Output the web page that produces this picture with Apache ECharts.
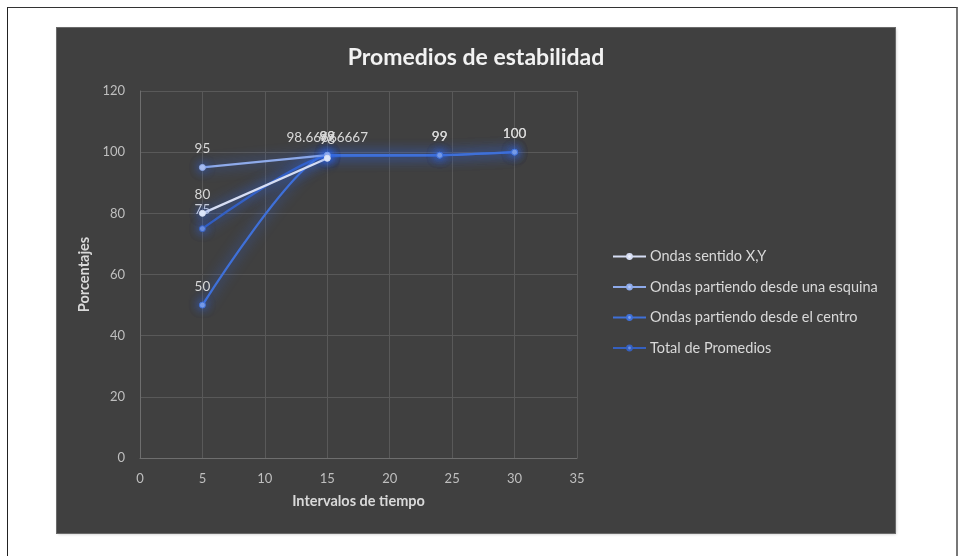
<!DOCTYPE html>
<html>
<head>
<meta charset="utf-8">
<script src="https://cdn.jsdelivr.net/npm/echarts@6/dist/echarts.min.js"></script>
<style>
  html, body { margin: 0; padding: 0; background: #ffffff; }
  #frame {
    position: absolute; left: 7px; top: 7px; width: 951px; height: 560px;
    border-left: 1px solid #222; border-top: 1px solid #333; border-right: 2px solid #777;
    box-sizing: border-box;
  }
  #chart {
    position: absolute; left: 57px; top: 28px; width: 838px; height: 505px;
    background: #404040;
    box-shadow: 0 0 0 1px #6a6a6a, 1px 1px 3px rgba(0,0,0,0.25);
  }
</style>
</head>
<body>
<div id="frame"></div>
<div id="chart"></div>
<script>
// Intervalos de tiempo medidos
const tiempos = [5, 15, 24, 30];

// Promedios por tipo de onda (porcentaje)
const ondasXY = [80, 98];
const ondasEsquina = [95, 99];
const ondasCentro = [50, 99, 99, 100];
const totalPromedios = [75, 98.66666667, 99, 100];

const nombres = [
  'Ondas sentido X,Y',
  'Ondas partiendo desde una esquina',
  'Ondas partiendo desde el centro',
  'Total de Promedios'
];

const xTicks = { min: 0, max: 35, interval: 5 };
const yTicks = { min: 0, max: 120, interval: 20 };

const colores = ['#d6ddf3', '#8eaaea', '#3f70d8', '#3560c0'];
const marcadores = ['#eef2fb', '#b4c6f2', '#7d9fe6', '#6d8fdc'];

function pares(valores) {
  return valores.map((v, i) => [tiempos[i], v]);
}

const FONT = 'Lato, "Open Sans", sans-serif';

function serie(i, valores, smooth) {
  return {
    name: nombres[i],
    type: 'line',
    data: pares(valores),
    smooth: smooth,
    symbol: 'circle',
    symbolSize: 6,
    lineStyle: {
      color: colores[i],
      width: 2.3,
      shadowColor: 'rgba(50,105,240,0.95)',
      shadowBlur: 13
    },
    itemStyle: {
      color: marcadores[i],
      borderColor: colores[i],
      borderWidth: 1,
      shadowColor: 'rgba(50,105,240,0.95)',
      shadowBlur: 10
    },
    label: {
      show: true,
      position: 'top',
      distance: 8,
      color: '#d9d9d9',
      fontFamily: FONT,
      fontSize: 13.5
    },
    z: 10 - i
  };
}

const chart = echarts.init(document.getElementById('chart'), null, { renderer: 'canvas' });

chart.setOption({
  backgroundColor: '#404040',
  animation: false,
  title: {
    text: 'Promedios de estabilidad',
    left: 'center',
    top: 13,
    textStyle: { color: '#f2f2f2', fontFamily: FONT, fontWeight: 'bold', fontSize: 23 }
  },
  grid: { left: 83, top: 63, width: 437, height: 367 },
  legend: {
    orient: 'vertical',
    left: 555,
    top: 221,
    padding: 0,
    itemWidth: 33,
    itemHeight: 6,
    itemGap: 15.5,
    textStyle: { color: '#d9d9d9', fontFamily: FONT, fontSize: 14.5, padding: [0, 0, 0, -1] },
    data: nombres
  },
  xAxis: {
    type: 'value',
    min: xTicks.min, max: xTicks.max, interval: xTicks.interval,
    name: 'Intervalos de tiempo',
    nameLocation: 'middle',
    nameGap: 36,
    nameTextStyle: { color: '#d9d9d9', fontFamily: FONT, fontWeight: 'bold', fontSize: 14.5 },
    axisLine: { show: true, lineStyle: { color: '#6e6e6e' } },
    axisTick: { show: false },
    axisLabel: { color: '#bfbfbf', fontFamily: FONT, fontSize: 13, margin: 14 },
    splitLine: { show: true, lineStyle: { color: '#595959' } }
  },
  yAxis: {
    type: 'value',
    min: yTicks.min, max: yTicks.max, interval: yTicks.interval,
    name: 'Porcentajes',
    nameLocation: 'middle',
    nameGap: 41,
    nameTextStyle: { color: '#d9d9d9', fontFamily: FONT, fontWeight: 'bold', fontSize: 14.5 },
    axisLine: { show: true, lineStyle: { color: '#6e6e6e' } },
    axisTick: { show: false },
    axisLabel: { color: '#bfbfbf', fontFamily: FONT, fontSize: 13, margin: 15 },
    splitLine: { show: true, lineStyle: { color: '#595959' } }
  },
  series: [
    serie(0, ondasXY, false),
    serie(1, ondasEsquina, false),
    serie(2, ondasCentro, 0.2),
    serie(3, totalPromedios, 0.2)
  ]
});
</script>
</body>
</html>
